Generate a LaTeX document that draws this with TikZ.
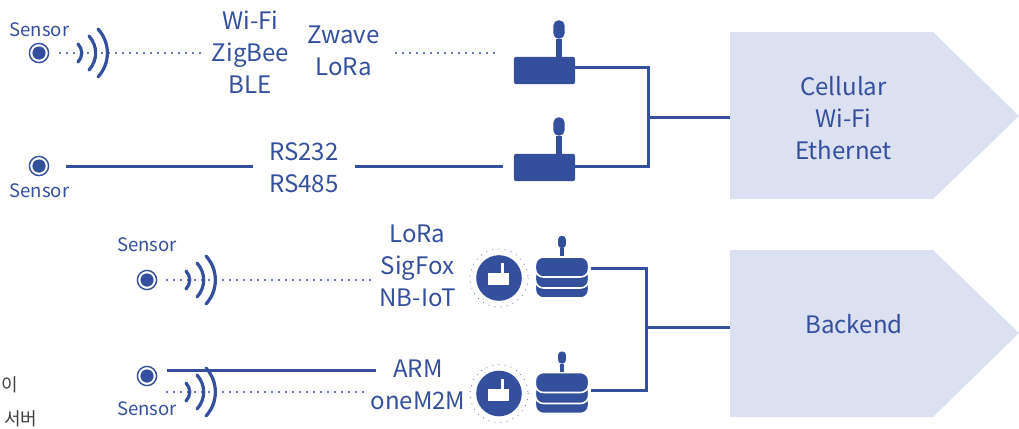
\documentclass[tikz,border=0pt]{standalone}
\usepackage{fontspec}
\setmainfont{Noto Sans CJK KR}
\definecolor{navy}{HTML}{344F9C}
\definecolor{pale}{HTML}{DCE1F1}
\tikzset{
	lab/.style={text=navy, inner sep=0pt, align=center, font=\fontsize{17.1pt}{22.76pt}\selectfont},
	senslab/.style={text=navy, inner sep=0pt, font=\fontsize{13.2pt}{15pt}\selectfont},
	ring/.style={circle, draw=navy, line width=0.035cm, fill=white, inner sep=0pt, minimum size=0.48cm},
	dot/.style={circle, fill=navy, inner sep=0pt, minimum size=0.33cm},
	wire/.style={draw=navy, line width=0.075cm},
	dots/.style={draw=navy, line width=0.055cm, line cap=round, dash pattern=on 0pt off 0.175cm},
	wave/.style={draw=navy, line width=0.08cm, line cap=round},
	gatebox/.style={fill=navy, rounded corners=0.05cm, inner sep=0pt, minimum width=1.525cm, minimum height=0.68cm},
	gatehead/.style={fill=navy, rounded corners=0.13cm, inner sep=0pt, minimum width=0.28cm, minimum height=0.46cm},
	stem/.style={draw=navy, line width=0.15cm},
	layer/.style={fill=navy, draw=white, line width=0.04cm, rounded corners=0.2cm, inner sep=0pt, minimum width=1.33cm, minimum height=0.5cm},
	stackhead/.style={fill=navy, rounded corners=0.08cm, inner sep=0pt, minimum width=0.19cm, minimum height=0.3cm},
	badge/.style={circle, fill=navy, inner sep=0pt, minimum size=1.14cm},
	halo/.style={draw=navy, line width=0.025cm, line cap=round, dash pattern=on 0pt off 0.155cm},
	arrowbox/.style={fill=pale},
	krlab/.style={text=black!75, inner sep=0pt, font=\fontsize{12.8pt}{14pt}\selectfont}
}
\begin{document}
\begin{tikzpicture}[x=0.025cm,y=-0.025cm]
	\useasboundingbox (0,0) rectangle (1019,428);
	% Big arrows on the right
	\fill[arrowbox] (730,32) -- (933,32) -- (1019,116) -- (933,199) -- (730,199) -- cycle;
	\fill[arrowbox] (730,250) -- (933,250) -- (1019,333) -- (933,417) -- (730,417) -- cycle;
	\coordinate (cellin) at (730,117);
	\coordinate (backin) at (730,327);
	\node[lab] (cellular) at (843.5,118) {Cellular\\Wi-Fi\\Ethernet};
	\node[lab] (backend) at (854,324) {Backend};
	% Sensors
	\foreach \name/\x/\y in {sa/39/53, sb/39/166, sc/147/280, sd/147/376} {
		\node[ring] (\name) at (\x,\y) {};
		\node[dot] at (\name) {};
	}
	\node[senslab] (sal) at (39.5,29.5) {Sensor};
	\node[senslab] (sbl) at (39.5,190.5) {Sensor};
	\node[senslab] (scl) at (147,244.5) {Sensor};
	\node[senslab] (sdl) at (147,408.5) {Sensor};
	% Radio waves
	\foreach \wx/\wy in {0/53, 108/280, 108/392} {
		\begin{scope}[shift={(\wx,\wy)}]
			\draw[wave] (78,-9) to[bend left=45] (78,9);
			\draw[wave] (89,-17) to[bend left=42] (89,17);
			\draw[wave] (98,-24) to[bend left=42] (98,24);
		\end{scope}
	}
	% Labels of the links
	\node[lab] (wifi) at (250.5,52) {Wi-Fi\\ZigBee\\BLE};
	\node[lab] (zwave) at (343.5,51) {Zwave\\LoRa};
	\node[lab] (rs) at (304,167.5) {RS232\\RS485};
	\node[lab] (lora) at (417.5,265.5) {LoRa\\SigFox\\NB-IoT};
	\node[lab] (arm) at (418,384.5) {ARM\\oneM2M};
	% Gateways
	\foreach \name/\y in {ga/70.5, gb/167.5} {
		\node[gatebox] (\name) at (544.5,\y) {};
		\node[gatehead] (\name h) at (559,\y-41) {};
		\draw[stem] (\name h) -- (\name h |- \name.north);
	}
	% Stacks with their badges
	\foreach \name/\y in {ca/278, cb/393.5} {
		\node[layer] (\name z) at (562,\y+10) {};
		\node[layer] (\name y) at (562,\y) {};
		\node[layer] (\name) at (562,\y-11) {};
		\node[stackhead] (\name h) at (562,\y-36) {};
		\draw[draw=navy, line width=0.08cm] (\name h) -- (\name h |- \name.north);
		\node[badge] (\name b) at (499,\y) {};
		\draw[halo] (\name b) circle (29);
		\fill[white] (\name b) ++(-11,-5) rectangle ++(21,12);
		\fill[white] (\name b) ++(2,-5) rectangle ++(3,-10);
	}
	% Links
	\coordinate (zz) at (500,53);
	\draw[dots] (60,53) -- ([xshift=-0.2cm]wifi.west |- sa);
	\draw[dots] ([xshift=0.4cm]zwave.east |- sa) -- (zz);
	\draw[wire] ([xshift=0.42cm]sb.east) -- ([xshift=-0.4cm]rs.west |- sb);
	\draw[wire] ([xshift=0.4cm]rs.east |- sb) -- ([xshift=-0.27cm]gb.west |- sb);
	\draw[dots] (167,280) -- ([xshift=-0.1cm]lora.west |- sc);
	\draw[wire] ([xshift=0.25cm]sd.east |- 0,370) -- ([xshift=0.15cm]arm.west |- 0,370);
	\draw[dots] (167,392) -- ([xshift=-0.05cm]arm.west |- 0,392);
	% Trunks
	\coordinate (ja) at (648,117);
	\coordinate (jb) at (646,327);
	\draw[wire] (ga.east |- 0,67) -| (ja) |- (gb.east |- 0,166);
	\draw[wire] (ja) -- (cellin);
	\draw[wire] ([xshift=0.03cm]ca.east |- 0,268) -| (jb) |- ([xshift=0.03cm]cb.east |- 0,390);
	\draw[wire] (jb) -- (backin);
	% Captions on the left
	\node[krlab] (kra) at (10,384.5) {이};
	\node[krlab] (krb) at (21,419) {서버};
\end{tikzpicture}
\end{document}
